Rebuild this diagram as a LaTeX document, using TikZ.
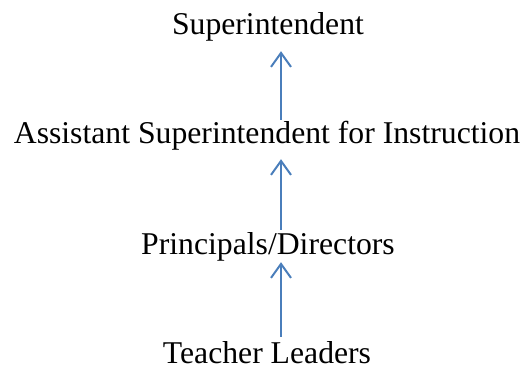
\documentclass[tikz,border=0pt]{standalone}
\usepackage{fontspec}
\setmainfont{Liberation Serif}
\usetikzlibrary{arrows.meta}
\definecolor{linkblue}{RGB}{74,126,187}

\begin{document}
\begin{tikzpicture}[
    x=1pt, y=1pt,
    level/.style={anchor=base, inner sep=0pt, text height=22pt, text depth=7pt,
        font=\fontsize{31.7}{36}\selectfont},
    link/.style={draw=linkblue, line width=2pt,
        -{Straight Barb[length=14pt, width=20pt, line width=2pt]}}
]
    \useasboundingbox (0,0) rectangle (527,369);
    \node[level] (super) at (268,334) {Superintendent};
    \node[level] (assist) at (267,225) {Assistant Superintendent for Instruction};
    \node[level] (princ) at (268,114) {Principals/Directors};
    \node[level, text depth=0pt] (teach) at (267,5) {Teacher Leaders};
    \draw[link, shorten <=2pt, shorten >=9pt] ([xshift=14pt]assist.north) -- ([xshift=13pt]super.south);
    \draw[link, shorten <=3pt, shorten >=8pt] ([xshift=13pt]princ.north) -- ([xshift=14pt]assist.south);
    \draw[link, shorten <=5pt, shorten >=0pt] ([xshift=14pt]teach.north) -- ([xshift=13pt]princ.south);
\end{tikzpicture}
\end{document}
